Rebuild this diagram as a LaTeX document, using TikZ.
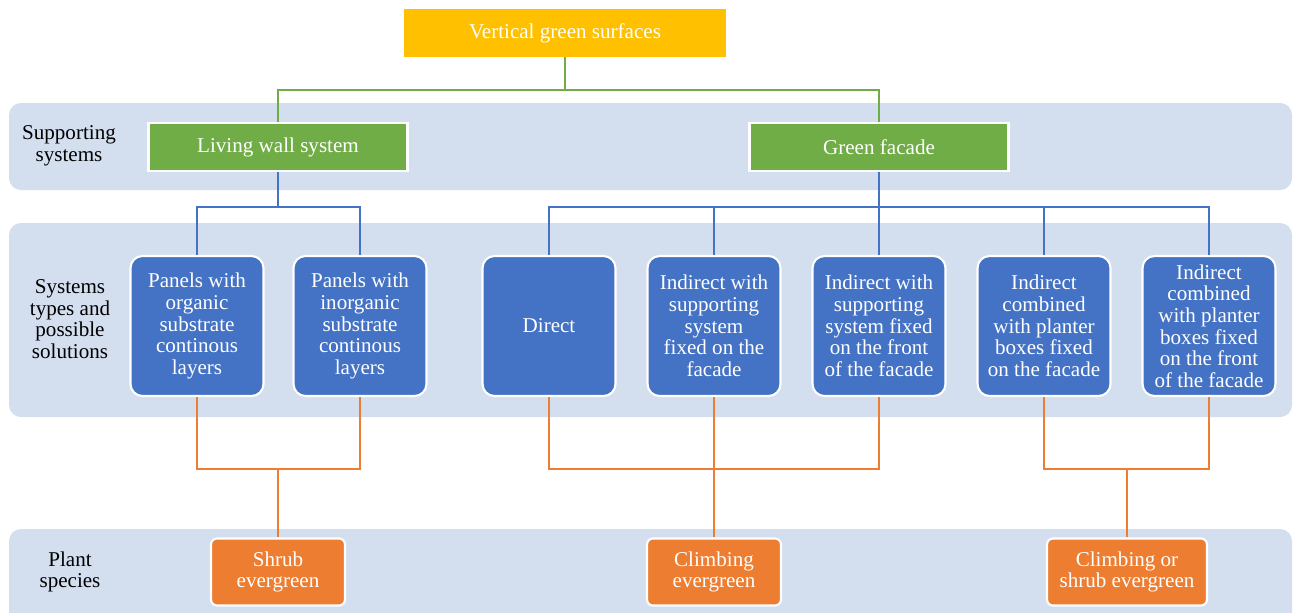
\documentclass[tikz,border=0pt]{standalone}
\usepackage{fontspec}
\setmainfont{Liberation Serif}
\definecolor{bandblue}{RGB}{211,222,239}
\definecolor{topyellow}{RGB}{255,192,0}
\definecolor{boxgreen}{RGB}{112,173,71}
\definecolor{boxblue}{RGB}{68,114,196}
\definecolor{boxorange}{RGB}{237,125,49}
\begin{document}
\begin{tikzpicture}[
				x=0.02cm, y=-0.02cm,
				every node/.style={font=\fontsize{12}{12.3}\selectfont, align=center},
				band/.style={fill=bandblue, rounded corners=0.24cm},
				label/.style={text=black},
				top/.style={fill=topyellow, text=white, minimum width=6.46cm, minimum height=0.96cm},
				support/.style={fill=boxgreen, draw=white, line width=1.2pt, text=white, minimum width=5.18cm, minimum height=0.96cm},
				solution/.style={fill=boxblue, draw=white, line width=1.2pt, text=white, rounded corners=0.24cm, minimum width=2.66cm, minimum height=2.8cm, inner sep=1pt},
				plant/.style={fill=boxorange, draw=white, line width=1.2pt, text=white, rounded corners=0.12cm, minimum width=2.68cm, minimum height=1.34cm},
				gline/.style={draw=boxgreen, line width=1.2pt},
				bline/.style={draw=boxblue, line width=1.2pt},
				oline/.style={draw=boxorange, line width=1.2pt}
				]
			\clip (0,0) rectangle (1293,612);
			% bands
			\fill[band] (9,103) rectangle (1292,190);
			\fill[band] (9,223) rectangle (1292,417);
			\fill[band] (9,529) rectangle (1292,660);
			\node [label] at (69,146) {Supporting\\systems};
			\node [label] at (70,319) {Systems\\types and\\possible\\solutions};
			\node [label] at (70,572) {Plant\\species};
			% nodes
			\node [top] (title) at (565,33) {Vertical green surfaces};
			\node [support] (lws) at (278,147) {Living wall system};
			\node [support] (gf) at (879,147) {Green facade};
			\node [solution] (org) at (197,326) {Panels with\\organic\\substrate\\continous\\layers};
			\node [solution] (inorg) at (360,326) {Panels with\\inorganic\\substrate\\continous\\layers};
			\node [solution] (direct) at (549,326) {Direct};
			\node [solution] (ind1) at (714,326) {Indirect with\\supporting\\system\\fixed on the\\facade};
			\node [solution] (ind2) at (879,326) {Indirect with\\supporting\\system fixed\\on the front\\of the facade};
			\node [solution] (ind3) at (1044,326) {Indirect\\combined\\with planter\\boxes fixed\\on the facade};
			\node [solution] (ind4) at (1209,326) {Indirect\\combined\\with planter\\boxes fixed\\on the front\\of the facade};
			\node [plant] (shrub) at (278,572) {Shrub\\evergreen};
			\node [plant] (climb) at (714,572) {Climbing\\evergreen};
			\node [plant, minimum width=3.2cm] (both) at (1127,572) {Climbing or\\shrub evergreen};
			% connectors
			\coordinate (g0) at (565,90);
			\draw[gline] (title) -- (g0) -| (lws);
			\draw[gline] (g0) -| (gf);
			\draw[bline] (lws) -- (278,207) coordinate (b1) -| (org);
			\draw[bline] (b1) -| (inorg);
			\draw[bline] (gf) -- (879,207) coordinate (b2) -| (direct);
			\draw[bline] (b2) -| (ind4);
			\draw[bline] (b2) -- (ind2);
			\draw[bline] (ind1 |- b2) -- (ind1);
			\draw[bline] (ind3 |- b2) -- (ind3);
			\draw[oline] (org) |- (278,469) coordinate (o1) -| (inorg);
			\draw[oline] (o1) -- (shrub);
			\draw[oline] (direct) |- (ind2 |- o1) -- (ind2);
			\draw[oline] (ind1) -- (climb);
			\draw[oline] (ind3) |- (1127,469) coordinate (o3) -| (ind4);
			\draw[oline] (o3) -- (both);
			\end{tikzpicture}
\end{document}
